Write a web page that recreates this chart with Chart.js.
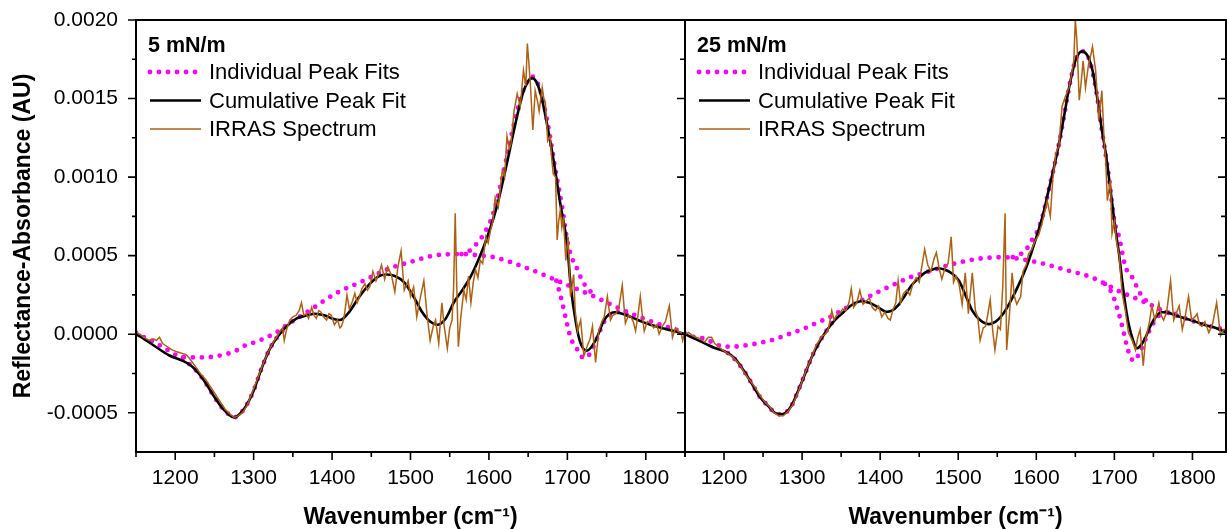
<!DOCTYPE html>
<html>
<head>
<meta charset="utf-8">
<title>IRRAS peak fits</title>
<script src="https://cdn.jsdelivr.net/npm/chart.js@4.4.1/dist/chart.umd.min.js"></script>
<style>
  html, body { margin: 0; padding: 0; background: #fff; }
  #wrap { position: relative; width: 1227px; height: 529px; overflow: hidden; }
  #left { position: absolute; left: 0; top: 0; }
  #right { position: absolute; left: 684px; top: 0; }
</style>
</head>
<body>
<div id="wrap">
  <canvas id="left" width="687" height="529"></canvas>
  <canvas id="right" width="543" height="529"></canvas>
</div>
<script>
// Axis ticks
const xTickValues = [1200, 1300, 1400, 1500, 1600, 1700, 1800];
const xMinorValues = [1150, 1250, 1350, 1450, 1550, 1650, 1750, 1850];
const yTickValues = [-0.0005, 0, 0.0005, 0.001, 0.0015, 0.002];
const yMinorValues = [-0.00025, 0.00025, 0.00075, 0.00125, 0.00175];

const panelLabels = ["5 mN/m", "25 mN/m"];
const seriesNames = ["Individual Peak Fits", "Cumulative Peak Fit", "IRRAS Spectrum"];

// ---- 5 mN/m ----
const leftSpecX = [
  1150, 1155, 1160, 1167, 1172, 1176, 1180, 1184, 1190, 1196,
  1201, 1207, 1214, 1219, 1225, 1232, 1239, 1247, 1256, 1264,
  1270, 1275, 1280, 1286, 1292, 1299, 1306, 1312, 1318, 1324,
  1329, 1334, 1337, 1339, 1342, 1346, 1350, 1354, 1358, 1361,
  1364, 1367, 1370, 1374, 1377, 1380, 1383, 1386, 1389, 1393,
  1396, 1399, 1403, 1407, 1410, 1412, 1414, 1416, 1419, 1422,
  1426, 1429, 1432, 1435, 1438, 1442, 1445, 1448, 1452, 1456,
  1460, 1463, 1467, 1471, 1476, 1480, 1484, 1488, 1492, 1497,
  1500, 1504, 1508, 1512, 1517, 1521, 1525, 1529, 1532, 1536,
  1540, 1543, 1547, 1550, 1553, 1555, 1557, 1559, 1561, 1564,
  1568, 1571, 1574, 1577, 1580, 1583, 1586, 1589, 1592, 1596,
  1599, 1602, 1605, 1608, 1612, 1615, 1617, 1620, 1623, 1626,
  1628, 1632, 1636, 1640, 1644, 1647, 1649, 1651, 1653, 1656,
  1659, 1662, 1664, 1668, 1670, 1672, 1675, 1678, 1680, 1682,
  1685, 1687, 1689, 1691, 1693, 1695, 1698, 1701, 1704, 1706,
  1708, 1710, 1713, 1717, 1721, 1725, 1729, 1732, 1736, 1740,
  1744, 1747, 1751, 1755, 1758, 1762, 1766, 1770, 1774, 1778,
  1781, 1784, 1787, 1790, 1793, 1796, 1798, 1802, 1806, 1810,
  1814, 1817, 1821, 1825, 1830, 1834, 1838, 1841, 1845, 1847,
  1850
];
const leftSpecY = [
  0.00001, 0.0, -0.00002, -0.00004, -0.00003, -0.00004, -0.00002, -0.00006, -0.00008, -0.0001,
  -0.00011, -0.00012, -0.00013, -0.00016, -0.0002, -0.00025, -0.00029, -0.00035, -0.00042, -0.00048,
  -0.00051, -0.00053, -0.00052, -0.0005, -0.00045, -0.00036, -0.00027, -0.00019, -0.00012, -0.00006,
  -0.00002, 0.00002, 0.00004, -0.00004, 0.00003, 0.00009, 0.00011, 0.00012, 0.00015, 0.0002,
  0.00012, 0.00013, 0.0001, 0.00017, 0.00012, 0.0001, 0.00015, 0.00014, 0.00011, 0.00009,
  0.00013, 0.00012, 0.00006, 0.00009, 0.00004, 0.00005, 0.00008, 0.00013, 0.00025, 0.00016,
  0.00021, 0.00026, 0.0002, 0.00024, 0.00029, 0.00032, 0.00028, 0.0003, 0.0004, 0.00034,
  0.00039, 0.00044, 0.00035, 0.00043, 0.00037, 0.00027, 0.00043, 0.00053, 0.00028, 0.00034,
  0.00024, 0.0003, 0.00011, 0.00022, 0.00034, 0.00013, -0.00004, 0.00005, 0.00009, -0.00006,
  0.0002, 0.00005, -0.00009, 0.00004, 0.00009, 0.0003, 0.00077, 0.0003, -0.00008, 0.0001,
  0.00028, 0.00022, 0.00037, 0.0002, 0.00033, 0.00041, 0.00036, 0.00047, 0.00045, 0.00062,
  0.00058, 0.00066, 0.00072, 0.00087, 0.00081, 0.00095, 0.00104, 0.001, 0.00126, 0.00118,
  0.00121, 0.00142, 0.00153, 0.00145, 0.00168, 0.00158, 0.00185, 0.00172, 0.00158, 0.0013,
  0.00155, 0.00148, 0.00142, 0.00157, 0.0015, 0.00147, 0.00123, 0.00126, 0.00112, 0.00102,
  0.001, 0.0006, 0.00072, 0.00079, 0.00068, 0.00075, 0.00047, 0.00062, 0.00024, 0.00031,
  0.00038, 0.00015, 0.00002, 0.00009, -0.00014, -0.00008, -0.00003, 0.00005, -0.00018, 0.00002,
  0.00008, 0.00011, 0.00024, 0.00009, 0.00012, 0.00013, 0.00018, 0.00031, 0.00007, 0.00012,
  0.00011, 0.00008, 0.00002, 0.00012, 0.00024, 0.0001, 0.00002, 0.00008, 0.00007, 0.00004,
  0.00006, 0.0, 0.00005, 0.00008, 0.00018, -0.00002, 0.00004, 0.00002, 0.00001, -0.00004,
  0.00002
];
const leftFitX = [
  1150, 1160, 1175, 1192, 1210, 1220, 1230, 1240, 1250, 1260,
  1268, 1275, 1282, 1290, 1300, 1310, 1320, 1330, 1342, 1355,
  1368, 1378, 1390, 1400, 1410, 1420, 1435, 1448, 1460, 1470,
  1480, 1492, 1505, 1515, 1525, 1534, 1545, 1555, 1566, 1577,
  1588, 1598, 1611, 1623, 1632, 1643, 1650, 1655, 1660, 1666,
  1674, 1683, 1691, 1700, 1704, 1711, 1717, 1725, 1736, 1747,
  1760, 1770, 1781, 1795, 1806, 1820, 1832, 1850
];
const leftFitY = [
  0.0, -0.00003, -0.00008, -0.000134, -0.00017, -0.0002, -0.00025, -0.00032, -0.0004, -0.00047,
  -0.00051, -0.00053, -0.00051, -0.00046, -0.00036, -0.00022, -0.0001, -0.00002, 0.00005, 0.0001,
  0.00012, 0.00013, 0.00012, 0.0001, 0.00009, 0.00013, 0.00024, 0.00032, 0.00037, 0.00038,
  0.00037, 0.00033, 0.00023, 0.00014, 0.00008, 0.00006, 0.0001, 0.0002, 0.00028, 0.00037,
  0.00049, 0.00062, 0.00083, 0.00109, 0.0013, 0.00153, 0.00161, 0.00163, 0.00161, 0.00153,
  0.00134, 0.00109, 0.00083, 0.00056, 0.00032, 0.00007, -0.00006, -0.000105, -0.00004, 0.00009,
  0.00014, 0.00013, 0.00011, 0.00008, 0.00006, 0.00004, 0.000025, 0.0
];
// individual peaks (each drawn on the broad band)
const leftBroadX = [1150, 1158, 1175, 1190, 1205, 1222, 1239, 1252, 1265, 1277, 1290, 1303, 1316, 1328, 1340,
  1371, 1405, 1440, 1474, 1500, 1530, 1564, 1590, 1606, 1649, 1692, 1734, 1777, 1819, 1850];
const leftBroadY = [0.00001, -0.000013, -0.000055, -0.0001, -0.00014, -0.000148, -0.000148, -0.00014, -0.000127,
  -0.000106, -0.00007, -0.000049, -0.000021, 0.000008, 0.00005, 0.00015, 0.00026, 0.00034, 0.00042, 0.00046,
  0.0005, 0.00051, 0.0005, 0.00049, 0.00042, 0.00033, 0.00024, 0.00014, 0.00006, 0.00001];
const leftDipX = [1210, 1220, 1230, 1240, 1250, 1260, 1268, 1275, 1282, 1290, 1300, 1310, 1320, 1330, 1342];
const leftDipY = [-0.00015, -0.0002, -0.00025, -0.00032, -0.0004, -0.00047, -0.00051, -0.00053, -0.00051,
  -0.00046, -0.00036, -0.00022, -0.0001, -0.00002, 0.00005];
const leftPeakX = [1565, 1575, 1585, 1595, 1605, 1615, 1625, 1635, 1645, 1655, 1665, 1675, 1685, 1693, 1700,
  1704, 1713, 1719, 1726, 1734];
const leftPeakY = [0.00051, 0.00053, 0.00058, 0.00065, 0.00076, 0.00095, 0.00118, 0.0014, 0.00157, 0.00164,
  0.00156, 0.00134, 0.00104, 0.00082, 0.00059, 0.00051, 0.00041, 0.00034, 0.00029, 0.00025];
const leftBandX = [1686, 1693, 1698, 1704, 1713, 1721, 1728, 1736, 1746, 1756, 1765, 1778];
const leftBandY = [0.00034, 0.00021, 0.0001, -0.00002, -0.0001, -0.000153, -0.00013, -0.00005, 0.00007,
  0.00013, 0.00014, 0.00012];

// ---- 25 mN/m ----
const rightSpecX = [
  1150, 1155, 1160, 1165, 1170, 1175, 1180, 1184, 1188, 1193,
  1198, 1204, 1210, 1216, 1222, 1228, 1234, 1240, 1246, 1252,
  1258, 1264, 1270, 1276, 1282, 1288, 1294, 1300, 1306, 1312,
  1318, 1322, 1326, 1330, 1334, 1338, 1341, 1344, 1348, 1352,
  1356, 1360, 1363, 1366, 1370, 1374, 1378, 1382, 1386, 1390,
  1394, 1398, 1402, 1406, 1410, 1413, 1416, 1420, 1423, 1426,
  1430, 1434, 1438, 1442, 1446, 1450, 1454, 1457, 1461, 1465,
  1469, 1472, 1476, 1479, 1483, 1487, 1491, 1494, 1497, 1501,
  1505, 1509, 1513, 1518, 1522, 1525, 1528, 1532, 1535, 1538,
  1541, 1544, 1547, 1551, 1554, 1557, 1560, 1562, 1566, 1569,
  1572, 1575, 1580, 1583, 1587, 1590, 1594, 1599, 1603, 1607,
  1611, 1614, 1618, 1621, 1625, 1629, 1633, 1637, 1642, 1645,
  1648, 1650, 1652, 1655, 1657, 1660, 1663, 1667, 1670, 1672,
  1676, 1680, 1684, 1687, 1689, 1691, 1695, 1697, 1700, 1703,
  1706, 1710, 1714, 1718, 1723, 1727, 1730, 1733, 1737, 1740,
  1742, 1745, 1748, 1752, 1757, 1760, 1763, 1767, 1772, 1776,
  1779, 1783, 1787, 1791, 1795, 1799, 1803, 1806, 1809, 1812,
  1816, 1821, 1826, 1831, 1836, 1840, 1844
];
const rightSpecY = [
  0.0, 0.00001, -0.00001, -0.00002, -0.00003, -0.00005, -0.00002, -0.00002, -0.00006, -0.00008,
  -0.0001, -0.00012, -0.00014, -0.00017, -0.00021, -0.00026, -0.0003, -0.00034, -0.00039, -0.00043,
  -0.00046, -0.0005, -0.00052, -0.00052, -0.00049, -0.00045, -0.00038, -0.0003, -0.00022, -0.00015,
  -0.00007, -0.00004, -0.00001, 0.0, 0.00004, 0.00015, 0.00009, 0.00012, 0.00013, 0.00016,
  0.00015, 0.0002, 0.00029, 0.00017, 0.0002, 0.00028, 0.00019, 0.00021, 0.00023, 0.00017,
  0.00015, 0.00018, 0.00011, 0.00014, 0.0001, 0.00009, 0.00015, 0.0002, 0.00034, 0.0002,
  0.00026, 0.00028, 0.00025, 0.00032, 0.00036, 0.00033, 0.00045, 0.00054, 0.00044, 0.0004,
  0.00048, 0.00052, 0.00041, 0.00035, 0.00042, 0.00045, 0.00062, 0.00033, 0.00037, 0.00032,
  0.00019, 0.00039, 0.00013, 0.00039, 0.00015, 0.00011, -0.00004, 0.00004, 0.00005, 0.00013,
  0.00022, 0.00003, -0.0001, 0.00005, 0.00003, 0.0003, 0.00077, -0.0001, 0.00015, 0.00039,
  0.00024, 0.00019, 0.00024, 0.0004, 0.00044, 0.00051, 0.00054, 0.0006, 0.00063, 0.0007,
  0.00078, 0.00085, 0.00075, 0.00098, 0.00115, 0.0012, 0.00145, 0.00151, 0.00157, 0.00165,
  0.00174, 0.002, 0.00187, 0.00149, 0.00158, 0.00174, 0.00157, 0.00172, 0.00178, 0.00183,
  0.00168, 0.00136, 0.00155, 0.00122, 0.0011, 0.00085, 0.00098, 0.00064, 0.00072, 0.00058,
  0.00051, 0.00026, 0.00015, 0.00001, -0.00004, -0.0001, -0.00002, 0.00003, -0.0002, -0.00003,
  0.00001, 0.00008, 0.00018, 0.00009, 0.0002, 0.00012, 0.00009, 0.00014, 0.00034, 0.00009,
  0.00013, 0.00018, 0.00003, 0.00012, 0.00024, 0.00009, 0.00011, 0.00013, 0.00006, 0.00005,
  0.00008, 0.00001, 0.00007, 0.0002, -0.00001, 0.00003, 0.00003
];
const rightFitX = [
  1150, 1163, 1176, 1189, 1201, 1214, 1225, 1235, 1246, 1257,
  1265, 1272, 1279, 1287, 1295, 1304, 1312, 1321, 1331, 1342,
  1353, 1363, 1376, 1386, 1393, 1401, 1408, 1415, 1423, 1431,
  1440, 1448, 1457, 1466, 1474, 1483, 1491, 1501, 1510, 1518,
  1528, 1539, 1548, 1556, 1566, 1578, 1589, 1599, 1608, 1616,
  1623, 1629, 1636, 1642, 1650, 1655, 1659, 1663, 1667, 1672,
  1676, 1680, 1684, 1689, 1693, 1697, 1701, 1706, 1710, 1714,
  1719, 1724, 1729, 1734, 1740, 1746, 1753, 1760, 1766, 1778,
  1791, 1804, 1817, 1830, 1844
];
const rightFitY = [
  0.0, -0.00003, -0.00006, -0.00009, -0.00011, -0.000155, -0.00023, -0.00031, -0.0004, -0.00046,
  -0.0005, -0.00051, -0.0005, -0.00045, -0.00036, -0.00025, -0.00015, -0.00006, 0.00002, 0.00009,
  0.00014, 0.000184, 0.00021, 0.0002, 0.000184, 0.00016, 0.000142, 0.00015, 0.000184, 0.00024,
  0.00031, 0.00035, 0.00039, 0.00041, 0.00042, 0.00041, 0.00039, 0.00034, 0.00024, 0.00015,
  0.00009, 0.000064, 0.00008, 0.00012, 0.0002, 0.00032, 0.00045, 0.0006, 0.00075, 0.00092,
  0.00107, 0.00121, 0.0014, 0.00157, 0.00174, 0.00179, 0.0018, 0.00179, 0.00176, 0.00168,
  0.00157, 0.00144, 0.0013, 0.00115, 0.001, 0.00084, 0.00068, 0.00051, 0.00034, 0.00019,
  0.00005, -0.00004, -0.00009, -0.00007, -0.00002, 0.00005, 0.00011, 0.00014, 0.00014, 0.00012,
  0.0001, 0.00008, 0.000057, 0.00004, 0.00001
];
const rightBroadX = [1150, 1163, 1176, 1188, 1197, 1210, 1222, 1235, 1248, 1261, 1274, 1287, 1300, 1312, 1325,
  1338, 1350, 1363, 1376, 1389, 1402, 1415, 1428, 1440, 1457, 1474, 1488, 1501, 1526, 1556, 1578, 1608, 1637,
  1669, 1690, 1703, 1724, 1745, 1762, 1785, 1809, 1844];
const rightBroadY = [0.000004, -0.00002, -0.00003, -0.00006, -0.000076, -0.00008, -0.000075, -0.000066,
  -0.000053, -0.000038, -0.000016, 0.000008, 0.00003, 0.000057, 0.000085, 0.000115, 0.00015, 0.000184,
  0.000216, 0.000248, 0.00028, 0.00031, 0.00034, 0.000365, 0.00039, 0.000418, 0.00044, 0.000456, 0.00048,
  0.00049, 0.00048, 0.00045, 0.00041, 0.000365, 0.000316, 0.00028, 0.000235, 0.00019, 0.00015, 0.00011,
  0.00007, 0.000025];
const rightDipX = [1205, 1214, 1225, 1235, 1246, 1257, 1265, 1272, 1279, 1287, 1295, 1304, 1312, 1321, 1331, 1342];
const rightDipY = [-0.00012, -0.00016, -0.00023, -0.00031, -0.0004, -0.00046, -0.0005, -0.00051, -0.0005,
  -0.00045, -0.00036, -0.00025, -0.00015, -0.00006, 0.00002, 0.0001];
const rightPeakX = [1570, 1580, 1586, 1593, 1600, 1608, 1616, 1623, 1629, 1636, 1642, 1650, 1659, 1667, 1676,
  1684, 1693, 1700, 1706, 1714, 1722, 1733, 1741];
const rightPeakY = [0.00049, 0.00051, 0.00053, 0.00059, 0.00064, 0.00075, 0.00092, 0.00107, 0.00121, 0.0014,
  0.00157, 0.00174, 0.0018, 0.00176, 0.00157, 0.0013, 0.001, 0.00072, 0.00062, 0.00043, 0.00037, 0.00026, 0.00021];
const rightBandX = [1688, 1697, 1702, 1708, 1712, 1718, 1725, 1732, 1740, 1750, 1760, 1770, 1782];
const rightBandY = [0.00032, 0.00026, 0.00019, 0.00009, 0.00001, -0.00011, -0.00017, -0.00012, -0.00003,
  0.00007, 0.00013, 0.00014, 0.00012];

// Styles
const MAGENTA = "#ff00ff";
const BROWN = "#b0600f";
const FONT = '"Liberation Sans", Arial, sans-serif';
const dotStyle = { color: MAGENTA, width: 4.8, dash: [0, 9], cap: "round" };
const fitStyle = { color: "#000000", width: 2.6, dash: [], cap: "butt" };
const specStyle = { color: BROWN, width: 1.5, dash: [], cap: "butt" };
const legendStyles = [dotStyle, fitStyle, specStyle];

function pts(xs, ys) {
  return xs.map(function (x, i) { return { x: x, y: ys[i] }; });
}

// Box and tick marks
const framePlugin = {
  id: "frame",
  afterDatasetsDraw: function (chart, args, o) {
    const ctx = chart.ctx, a = chart.chartArea;
    const x = chart.scales.x, y = chart.scales.y;
    ctx.save();
    ctx.strokeStyle = "#000";
    ctx.setLineDash([]);
    ctx.lineWidth = 2;
    ctx.strokeRect(a.left, a.top, a.right - a.left, a.bottom - a.top);
    ctx.lineWidth = 1.6;
    ctx.beginPath();
    function tx(v, len) {
      if (v < x.min || v > x.max) return;
      const p = x.getPixelForValue(v);
      ctx.moveTo(p, a.bottom); ctx.lineTo(p, a.bottom + len);
    }
    function ty(v, x0, len) {
      const p = y.getPixelForValue(v);
      ctx.moveTo(x0, p); ctx.lineTo(x0 - len, p);
    }
    xTickValues.forEach(function (v) { tx(v, 8); });
    xMinorValues.forEach(function (v) { tx(v, 5); });
    if (o.leftTicks) {
      yTickValues.forEach(function (v) { ty(v, a.left, 8); });
      yMinorValues.forEach(function (v) { ty(v, a.left, 4); });
    }
    if (o.rightTicks) {
      yTickValues.forEach(function (v) { ty(v, a.right, 8); });
      yMinorValues.forEach(function (v) { ty(v, a.right, 5); });
    }
    ctx.stroke();
    ctx.restore();
  }
};

// Panel label + legend inside the plot
const legendPlugin = {
  id: "panelLegend",
  afterDraw: function (chart, args, o) {
    const ctx = chart.ctx, a = chart.chartArea;
    ctx.save();
    ctx.fillStyle = "#000";
    ctx.textBaseline = "middle";
    ctx.textAlign = "left";
    ctx.font = "bold 21.5px " + FONT;
    ctx.fillText(o.title, a.left + 12, a.top + 26);
    ctx.font = "22px " + FONT;
    seriesNames.forEach(function (name, i) {
      const s = legendStyles[i];
      const yy = a.top + 52 + i * 28.5;
      ctx.beginPath();
      ctx.strokeStyle = s.color;
      ctx.lineWidth = s.width;
      ctx.setLineDash(s.dash);
      ctx.lineCap = s.cap;
      ctx.moveTo(a.left + 14, yy);
      ctx.lineTo(a.left + 65, yy);
      ctx.stroke();
      ctx.setLineDash([]);
      ctx.fillText(name, a.left + 73, yy + 1);
    });
    ctx.restore();
  }
};

function makePanel(id, p) {
  const dotted = function (xs, ys) {
    return {
      data: pts(xs, ys), borderColor: MAGENTA, borderWidth: dotStyle.width,
      borderDash: dotStyle.dash, borderCapStyle: "round", cubicInterpolationMode: "monotone", order: 2
    };
  };
  const datasets = [
    { label: seriesNames[2], data: pts(p.specX, p.specY), borderColor: BROWN, borderWidth: specStyle.width, order: 0 },
    { label: seriesNames[1], data: pts(p.fitX, p.fitY), borderColor: "#000", borderWidth: fitStyle.width,
      cubicInterpolationMode: "monotone", order: 1 }
  ].concat(p.peaks.map(function (pk) { return dotted(pk[0], pk[1]); }));

  return new Chart(document.getElementById(id), {
    type: "line",
    data: { datasets: datasets },
    options: {
      responsive: false,
      animation: false,
      devicePixelRatio: 1,
      elements: { point: { radius: 0 }, line: { tension: 0 } },
      layout: { padding: { top: 20, right: p.padRight, left: 0, bottom: 0 } },
      plugins: {
        legend: { display: false },
        tooltip: { enabled: false },
        frame: { leftTicks: p.showY, rightTicks: true },
        panelLegend: { title: p.title }
      },
      scales: {
        x: {
          type: "linear", min: 1150, max: p.xMax,
          afterBuildTicks: function (s) { s.ticks = xTickValues.map(function (v) { return { value: v }; }); },
          afterFit: function (s) { s.height = 77; s.paddingLeft = 0; s.paddingRight = 0; },
          grid: { display: false }, border: { display: false },
          ticks: { autoSkip: false, maxRotation: 0, padding: 6, color: "#000", font: { family: FONT, size: 21 },
            callback: function (v) { return String(v); } },
          title: { display: true, text: "Wavenumber (cm\u207B\u00B9)", color: "#000",
            font: { family: FONT, size: 23, weight: "bold", lineHeight: 1 }, padding: { top: 0, bottom: 0 } }
        },
        y: {
          type: "linear", min: -0.00075, max: 0.002,
          afterBuildTicks: function (s) { s.ticks = yTickValues.map(function (v) { return { value: v }; }); },
          afterFit: function (s) { s.width = p.yWidth; s.paddingTop = 0; s.paddingBottom = 0; },
          grid: { display: false }, border: { display: false },
          ticks: { display: p.showY, padding: 10, color: "#000", font: { family: FONT, size: 21 },
            callback: function (v) { return v.toFixed(4); } },
          title: { display: p.showY, text: "Reflectance-Absorbance (AU)", color: "#000",
            font: { family: FONT, size: 23, weight: "bold", lineHeight: 1 }, padding: { top: 12, bottom: 0 } }
        }
      }
    },
    plugins: [framePlugin, legendPlugin]
  });
}

makePanel("left", {
  title: panelLabels[0], showY: true, yWidth: 136, padRight: 2, xMax: 1850,
  specX: leftSpecX, specY: leftSpecY, fitX: leftFitX, fitY: leftFitY,
  peaks: [[leftBroadX, leftBroadY], [leftDipX, leftDipY], [leftPeakX, leftPeakY], [leftBandX, leftBandY]]
});

makePanel("right", {
  title: panelLabels[1], showY: false, yWidth: 1, padRight: 1, xMax: 1843,
  specX: rightSpecX, specY: rightSpecY, fitX: rightFitX, fitY: rightFitY,
  peaks: [[rightBroadX, rightBroadY], [rightDipX, rightDipY], [rightPeakX, rightPeakY], [rightBandX, rightBandY]]
});
</script>
</body>
</html>
